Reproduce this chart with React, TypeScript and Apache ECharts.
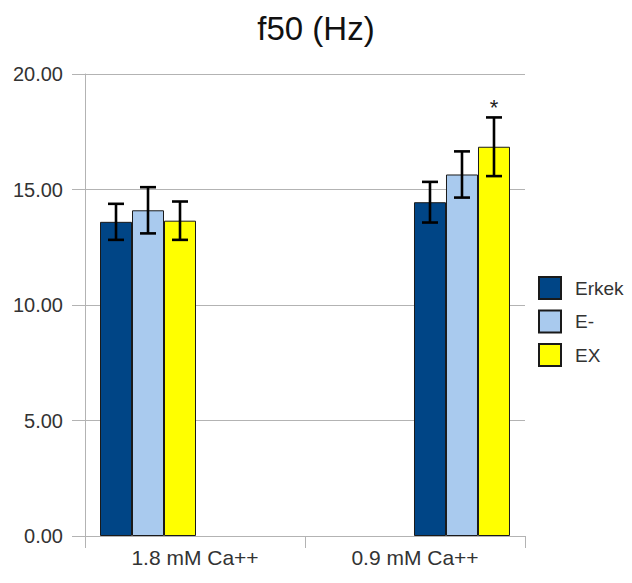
import React, { useEffect, useRef } from "react";
import * as echarts from "echarts";

// Two calcium conditions, three groups per condition
const categories = ["1.8 mM Ca++", "0.9 mM Ca++"];
const seriesNames = ["Erkek", "E-", "EX"];
const seriesColors = ["#004586", "#a9caee", "#ffff00"];

// Mean f50 (Hz) per group, one entry per condition
const erkekMeans = [13.6, 14.45];
const eMinusMeans = [14.1, 15.65];
const exMeans = [13.65, 16.85];

// Half-height of each error bar
const erkekErr = [0.78, 0.88];
const eMinusErr = [1.0, 1.0];
const exErr = [0.83, 1.27];

// Significance marks drawn above the error bars
const erkekMarks = ["", ""];
const eMinusMarks = ["", ""];
const exMarks = ["", "*"];

// Bar-group centres on the hidden value axis (two category bands of width 1)
const groupCenters = [0.2864, 1.7136];

const yTicks = { min: 0, max: 20, interval: 5 };

const BAR_W = 32;
const FONT = "'Liberation Sans', Arial, sans-serif";

export default function App() {
  const ref = useRef<HTMLDivElement>(null);

  useEffect(() => {
    if (!ref.current) return;
    const chart = echarts.init(ref.current, undefined, { renderer: "svg" });

    const means = [erkekMeans, eMinusMeans, exMeans];
    const errs = [erkekErr, eMinusErr, exErr];
    const marks = [erkekMarks, eMinusMarks, exMarks];

    const barSeries = seriesNames.map((name, s) => ({
      name,
      type: "bar",
      xAxisIndex: 1,
      barWidth: BAR_W,
      barGap: "0%",
      data: groupCenters.map((x, i) => [x, means[s][i]]),
      itemStyle: {
        color: seriesColors[s],
        borderColor: "#1a1a1a",
        borderWidth: 1,
      },
    }));

    const errData: any[] = [];
    seriesNames.forEach((_, s) => {
      groupCenters.forEach((x, i) => {
        errData.push([x, means[s][i], errs[s][i], s, marks[s][i]]);
      });
    });

    const errorSeries = {
      type: "custom",
      xAxisIndex: 1,
      data: errData,
      z: 10,
      renderItem: (params: any, api: any) => {
        const x = api.value(0);
        const mean = api.value(1);
        const err = api.value(2);
        const s = api.value(3);
        const mark = errData[params.dataIndex][4];
        const offset = (s - 1) * BAR_W;
        const hi = api.coord([x, mean + err]);
        const lo = api.coord([x, mean - err]);
        const cx = hi[0] + offset;
        const cap = 8;
        const style = { stroke: "#000", lineWidth: 2.6, fill: "none" };
        const children: any[] = [
          { type: "line", shape: { x1: cx, y1: hi[1], x2: cx, y2: lo[1] }, style },
          { type: "line", shape: { x1: cx - cap, y1: hi[1], x2: cx + cap, y2: hi[1] }, style },
          { type: "line", shape: { x1: cx - cap, y1: lo[1], x2: cx + cap, y2: lo[1] }, style },
        ];
        if (mark) {
          children.push({
            type: "text",
            style: {
              text: mark,
              x: cx,
              y: hi[1] + 1,
              align: "center",
              verticalAlign: "bottom",
              fontSize: 22,
              fontFamily: FONT,
              fill: "#222",
            },
          });
        }
        return { type: "group", children };
      },
    };

    chart.setOption({
      animation: false,
      backgroundColor: "#fff",
      title: {
        text: "f50 (Hz)",
        left: "center",
        top: 7,
        textStyle: { fontSize: 33, fontWeight: "normal", color: "#111", fontFamily: FONT },
      },
      legend: {
        orient: "vertical",
        left: 533,
        top: 271,
        itemWidth: 22,
        itemHeight: 22,
        itemGap: 9.5,
        icon: "rect",
        data: seriesNames,
        textStyle: { fontSize: 19, color: "#333", fontFamily: FONT, padding: [0, 0, 0, 9] },
      },
      grid: { left: 85, right: 107, top: 74, bottom: 47, containLabel: false },
      xAxis: [
        {
          type: "category",
          data: categories,
          boundaryGap: true,
          axisLine: { show: true, lineStyle: { color: "#b3b3b3", width: 1 } },
          axisTick: { show: true, length: 12, lineStyle: { color: "#b3b3b3" } },
          axisLabel: { fontSize: 21, color: "#333", fontFamily: FONT, margin: 11 },
        },
        {
          type: "value",
          min: 0,
          max: 2,
          show: false,
          splitLine: { show: false },
        },
      ],
      yAxis: {
        type: "value",
        min: yTicks.min,
        max: yTicks.max,
        interval: yTicks.interval,
        axisLine: { show: true, lineStyle: { color: "#b3b3b3", width: 1 } },
        axisTick: { show: true, length: 13, lineStyle: { color: "#b3b3b3" } },
        axisLabel: {
          fontSize: 20,
          color: "#333",
          fontFamily: FONT,
          margin: 22,
          formatter: (v: number) => v.toFixed(2),
        },
        splitLine: { show: true, lineStyle: { color: "#b3b3b3", width: 1 } },
      },
      series: [...barSeries, errorSeries],
    });

    return () => chart.dispose();
  }, []);

  return <div ref={ref} style={{ width: 632, height: 583, margin: -8 }} />;
}
